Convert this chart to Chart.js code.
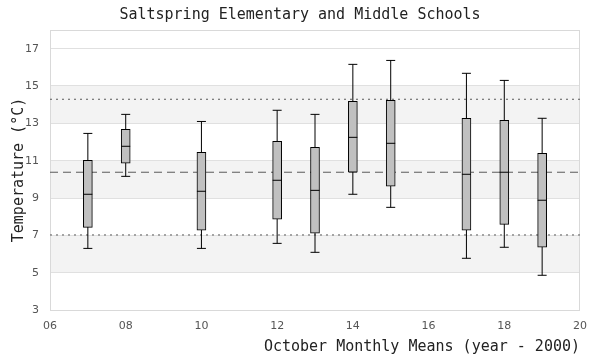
<!DOCTYPE html>
<html><head><meta charset="utf-8">
<script src="https://cdn.jsdelivr.net/npm/chart.js@4"></script>
<style>html,body{margin:0;padding:0;background:#fff}</style>
</head><body>
<canvas id="c" width="600" height="360"></canvas>
<script>
// October monthly mean temperatures, box plot summary per year (year - 2000)
const years   = [7, 8, 10, 12, 13, 14, 15, 17, 18, 19];
const mins    = [6.30, 10.16, 6.30, 6.57, 6.09, 9.20, 8.50, 5.77, 6.36, 4.86];
const q1s     = [7.43, 10.86, 7.27, 7.86, 7.11, 10.38, 9.63, 7.27, 7.59, 6.36];
const medians = [9.20, 11.77, 9.36, 9.95, 9.41, 12.25, 11.93, 10.27, 10.38, 8.88];
const q3s     = [11.02, 12.68, 11.45, 12.04, 11.71, 14.18, 14.23, 13.27, 13.16, 11.39];
const maxs    = [12.46, 13.48, 13.10, 13.70, 13.48, 16.16, 16.37, 15.68, 15.30, 13.27];

const xTicks = [6, 8, 10, 12, 14, 16, 18, 20];
const yTicks = [3, 5, 7, 9, 11, 13, 15, 17];
const bands = [[5, 7], [9, 11], [13, 15]];
const refUpper = 14.29, refMean = 10.38, refLower = 7.02;

const xMin = 6, xMax = 20, yMin = 3, yMax = 18;

const whiskerData = [];
years.forEach((yr, i) => {
  whiskerData.push({x: yr, y: mins[i]}, {x: yr, y: maxs[i]}, {x: yr + 0.5, y: null});
});

const frameBands = {
  id: 'frameBands',
  beforeDraw(chart) {
    const {ctx, chartArea: a, scales: {y}} = chart;
    ctx.save();
    ctx.fillStyle = '#f3f3f3';
    bands.forEach(([lo, hi]) => {
      const t = y.getPixelForValue(hi), b = y.getPixelForValue(lo);
      ctx.fillRect(a.left, t, a.right - a.left, b - t);
    });
    ctx.restore();
  },
  beforeDatasetsDraw(chart) {
    const {ctx, chartArea: a} = chart;
    ctx.save();
    ctx.strokeStyle = '#d9d9d9';
    ctx.lineWidth = 1;
    ctx.strokeRect(Math.round(a.left) + 0.5, Math.round(a.top) + 0.5,
                   Math.round(a.right - a.left) - 1, Math.round(a.bottom - a.top));
    ctx.restore();
  }
};

const refLine = (v, dash, order) => ({
  type: 'line',
  data: [{x: xMin, y: v}, {x: xMax, y: v}],
  borderColor: '#5a5a5a', borderWidth: 1, borderDash: dash,
  pointRadius: 0, fill: false, order
});

new Chart(document.getElementById('c'), {
  type: 'bar',
  data: {
    datasets: [
      refLine(refUpper, [2, 4], 6),
      refLine(refMean, [8, 5], 6),
      refLine(refLower, [2, 4], 6),
      {
        type: 'line', data: whiskerData, borderColor: '#000', borderWidth: 1,
        pointRadius: 0, spanGaps: false, fill: false, order: 4
      },
      {
        type: 'bar', data: years.map((yr, i) => ({x: yr, y: [q1s[i], q3s[i]]})),
        backgroundColor: '#c0c0c0', borderColor: '#000', borderWidth: 1,
        borderSkipped: false, barThickness: 9, order: 3
      },
      {
        type: 'line', showLine: false,
        data: years.map((yr, i) => ({x: yr, y: mins[i]})).concat(years.map((yr, i) => ({x: yr, y: maxs[i]}))),
        pointStyle: 'line', pointRadius: 4.5, pointBorderWidth: 1, pointBorderColor: '#000',
        borderColor: '#000', order: 2
      },
      {
        type: 'line', showLine: false,
        data: years.map((yr, i) => ({x: yr, y: medians[i]})),
        pointStyle: 'line', pointRadius: 4.5, pointBorderWidth: 1, pointBorderColor: '#000',
        borderColor: '#000', order: 1
      }
    ]
  },
  options: {
    responsive: false,
    devicePixelRatio: 1,
    animation: false,
    events: [],
    layout: {padding: {left: 0, right: 0, top: 0, bottom: 0}},
    plugins: {
      legend: {display: false},
      tooltip: {enabled: false},
      title: {
        display: true,
        text: 'Saltspring Elementary and Middle Schools',
        font: {family: '"DejaVu Sans Mono", "Liberation Mono", monospace', size: 15, weight: 'normal'},
        color: '#222',
        padding: {top: 6, bottom: 6}
      }
    },
    scales: {
      x: {
        type: 'linear', min: xMin, max: xMax, offset: false,
        afterBuildTicks: s => { s.ticks = xTicks.map(v => ({value: v})); },
        afterFit: s => { s.height = 50; },
        grid: {display: false, offset: false, drawTicks: false},
        border: {display: false},
        ticks: {
          padding: 10, color: '#555', maxRotation: 0,
          font: {family: '"DejaVu Sans", sans-serif', size: 11},
          callback: v => String(v).padStart(2, '0')
        },
        title: {
          display: true, text: 'October Monthly Means (year - 2000)', align: 'end',
          font: {family: '"DejaVu Sans Mono", "Liberation Mono", monospace', size: 15},
          color: '#222', padding: {top: 0, bottom: 4}
        }
      },
      y: {
        type: 'linear', min: yMin, max: yMax,
        afterBuildTicks: s => { s.ticks = yTicks.map(v => ({value: v})); },
        afterFit: s => { s.width = 50; },
        grid: {color: '#e0e0e0', drawTicks: false},
        border: {display: false},
        ticks: {
          padding: 11, color: '#555',
          font: {family: '"DejaVu Sans", sans-serif', size: 11}
        },
        title: {
          display: true, text: 'Temperature (°C)',
          font: {family: '"DejaVu Sans Mono", "Liberation Mono", monospace', size: 15},
          color: '#222', padding: {top: 10, bottom: 0}
        }
      },
      yRight: {
        type: 'linear', position: 'right', min: yMin, max: yMax, display: true,
        afterFit: s => { s.width = 20; },
        grid: {display: false, drawTicks: false},
        border: {display: false},
        ticks: {display: false}
      }
    }
  },
  plugins: [frameBands]
});
</script>
</body></html>
